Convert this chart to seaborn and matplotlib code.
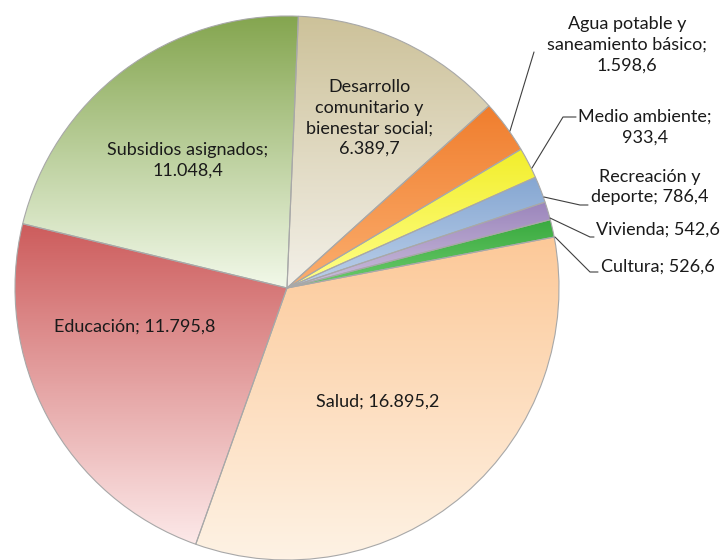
import numpy as np
import matplotlib
matplotlib.use("Agg")
import matplotlib.pyplot as plt
import seaborn as sns

# ==========================================================# Data# ==========================================================

labels = ["Desarrollo\ncomunitario y\nbienestar social", "Agua potable y\nsaneamiento básico",
          "Medio ambiente", "Recreación y\ndeporte", "Vivienda", "Cultura",
          "Salud", "Educación", "Subsidios asignados"]
values = [6389.7, 1598.6, 933.4, 786.4, 542.6, 526.6, 16895.2, 11795.8, 11048.4]
value_text = ["6.389,7", "1.598,6", "933,4", "786,4", "542,6", "526,6",
              "16.895,2", "11.795,8", "11.048,4"]
label_text = [
    "Desarrollo\ncomunitario y\nbienestar social;\n6.389,7",
    "Agua potable y\nsaneamiento básico;\n1.598,6",
    "Medio ambiente;\n933,4",
    "Recreación y\ndeporte; 786,4",
    "Vivienda; 542,6",
    "Cultura; 526,6",
    "Salud; 16.895,2",
    "Educación; 11.795,8",
    "Subsidios asignados;\n11.048,4",
]

# gradient (top, bottom) for each slice
top_colors = ["#CDC29A", "#F07E2E", "#F2EE2C", "#86A7D2", "#9C86BC", "#3AAA3F",
              "#FCC999", "#CD5D5D", "#85A650"]
bottom_colors = ["#F3F0E8", "#FBAE6E", "#FFFF8A", "#BCD0EA", "#CBBEDC", "#6CCB6C",
                 "#FEF2E4", "#FCE8E8", "#F1F8E8"]

# label centres in pixel space (x, y from top)
label_pos = [(369, 118), (627, 45), (645, 127), (650, 187), (658, 230), (658, 267),
             (378, 402), (135, 327), (188, 160)]
# leader lines in pixel space
leaders = {
    1: [(510, 131), (534, 52)],
    2: [(532, 168), (563, 117), (576, 117)],
    3: [(544, 197), (580, 205), (588, 205)],
    4: [(550, 218), (590, 237), (594, 237)],
    5: [(555, 237), (590, 272), (598, 272)],
}

W, H = 724, 560
cx, cy, R = 287, 288, 272

sns.set_theme(style="white")
plt.rcParams["font.family"] = ["Lato", "DejaVu Sans"]

fig = plt.figure(figsize=(W / 100, H / 100), dpi=100)
ax = fig.add_axes([0, 0, 1, 1])

wedges, _ = ax.pie(values, startangle=87.6, counterclock=False,
                   center=(cx, H - cy), radius=R, colors=top_colors,
                   wedgeprops=dict(edgecolor="#a8a8a8", linewidth=0.8))

# vertical gradient inside each wedge
for w, c_top, c_bot in zip(wedges, top_colors, bottom_colors):
    ext = w.get_path().get_extents()
    pal = sns.blend_palette([c_bot, c_top], n_colors=64)
    grad = np.array(pal).reshape(64, 1, 3)
    im = ax.imshow(grad, extent=[ext.x0, ext.x1, ext.y0, ext.y1], origin="lower",
                   aspect="auto", zorder=2, interpolation="bilinear")
    im.set_clip_path(w)
    w.set_facecolor("none")
    w.set_zorder(3)

for i, (txt, (px, py)) in enumerate(zip(label_text, label_pos)):
    ax.text(px, H - py, txt, ha="center", va="center", fontsize=13,
            color="#1a1a1a", linespacing=1.36, zorder=5)

for i, pts in leaders.items():
    xs = [p[0] for p in pts]
    ys = [H - p[1] for p in pts]
    ax.plot(xs, ys, color="#404040", lw=0.8, zorder=4)

ax.set_xlim(0, W)
ax.set_ylim(0, H)
ax.set_aspect("equal")
ax.axis("off")

fig.savefig("out.png", dpi=100, facecolor="white")
